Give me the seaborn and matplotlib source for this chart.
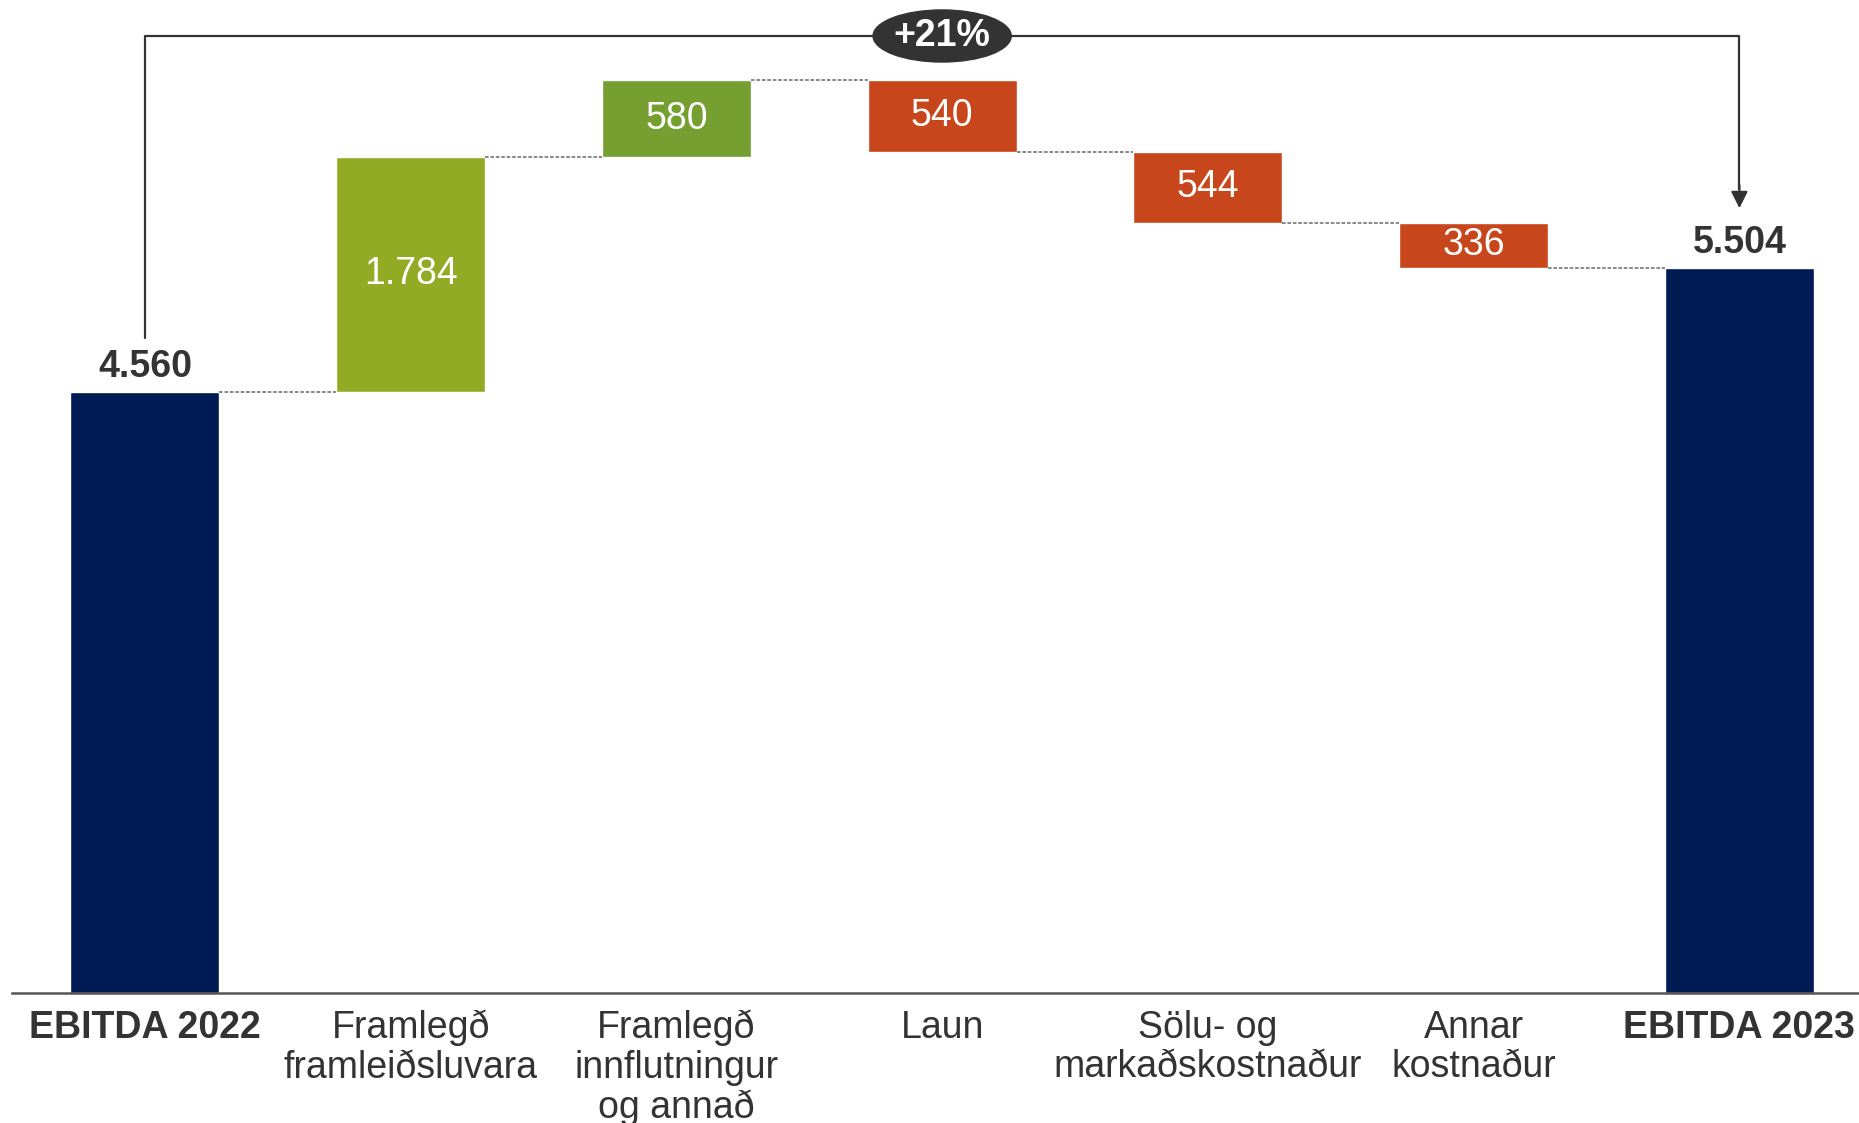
import matplotlib.pyplot as plt
import pandas as pd
import seaborn as sns
from matplotlib.patches import Ellipse

# gögn
categories = ["EBITDA 2022", "Framlegð\nframleiðsluvara", "Framlegð\ninnflutningur\nog annað",
              "Laun", "Sölu- og\nmarkaðskostnaður", "Annar\nkostnaður", "EBITDA 2023"]
values = [4560, 1784, 580, -540, -544, -336, 5504]
bar_colors = ["#001A54", "#93AB24", "#769F32", "#C8461B", "#C8461B", "#C8461B", "#001A54"]
growth_label = "+21%"


def fmt(v):
    return f"{abs(v):,}".replace(",", ".")


# reikna botn og topp hverrar súlu (fossarit)
bottoms, tops = [], []
level = 0
for i, v in enumerate(values):
    if i == 0 or i == len(values) - 1:
        bottoms.append(0)
        tops.append(v)
        level = v
    else:
        bottoms.append(min(level, level + v))
        tops.append(max(level, level + v))
        level += v

df = pd.DataFrame({"cat": categories, "top": tops, "bottom": bottoms, "value": values})

sns.set_theme(style="white")
plt.rcParams['font.family'] = ['Liberation Sans', 'DejaVu Sans']

fig = plt.figure(figsize=(18.59, 11.23), dpi=100)
ax = fig.add_axes([12 / 1859, 130 / 1123, 1 - 12 / 1859, 993 / 1123])

sns.barplot(data=df, x="cat", y="top", hue="cat", palette=bar_colors, width=0.56,
            saturation=1, legend=False, ax=ax)

# færa súlurnar á réttan botn
for p, b, t in zip(ax.patches, bottoms, tops):
    p.set_y(b)
    p.set_height(t - b)

ax.set_xlim(-0.5, 6.45)
ax.set_ylim(0, 7534)

# tengilínur
hw = 0.28
for i in range(len(values) - 1):
    lvl = tops[i] if (i == 0 or values[i] > 0) else bottoms[i]
    ax.plot([i + hw, i + 1 - hw], [lvl, lvl], color="#7f7f7f", lw=1.3, ls=(0, (2, 1)))

# gildi
fs = 27
for i, v in enumerate(values):
    if i == 0 or i == len(values) - 1:
        ax.annotate(fmt(v), (i, tops[i]), xytext=(0, 18), textcoords="offset points",
                    ha="center", va="center", fontsize=fs, fontweight="bold", color="#333333")
    else:
        ax.text(i, (tops[i] + bottoms[i]) / 2, fmt(v), ha="center", va="center",
                fontsize=fs, color="white")

# vaxtarörin
yb = 7261
ax.plot([0, 0, 6, 6], [4970, yb, yb, 6100], color="#333333", lw=1.6)
ax.annotate("", xy=(6, 5933), xytext=(6, 6150),
            arrowprops=dict(arrowstyle="-|>", color="#333333", lw=1.6, mutation_scale=25))
ax.add_patch(Ellipse((3, yb), 0.52, 395, color="#333333", zorder=5))
ax.text(3, yb, growth_label, ha="center", va="center", fontsize=fs, fontweight="bold",
        color="white", zorder=6)

# ásar
ax.set_xticks(range(len(categories)))
ax.set_xticklabels(categories, fontsize=fs, color="#333333", linespacing=1.12, va="top")
for i in [0, len(categories) - 1]:
    ax.get_xticklabels()[i].set_fontweight("bold")
ax.tick_params(axis="x", length=0, pad=12)
ax.set_yticks([])
ax.set_xlabel("")
ax.set_ylabel("")
for s in ["left", "top", "right"]:
    ax.spines[s].set_visible(False)
ax.spines["bottom"].set_color("#555555")
ax.spines["bottom"].set_linewidth(1.8)

fig.savefig("out.png", dpi=100)
